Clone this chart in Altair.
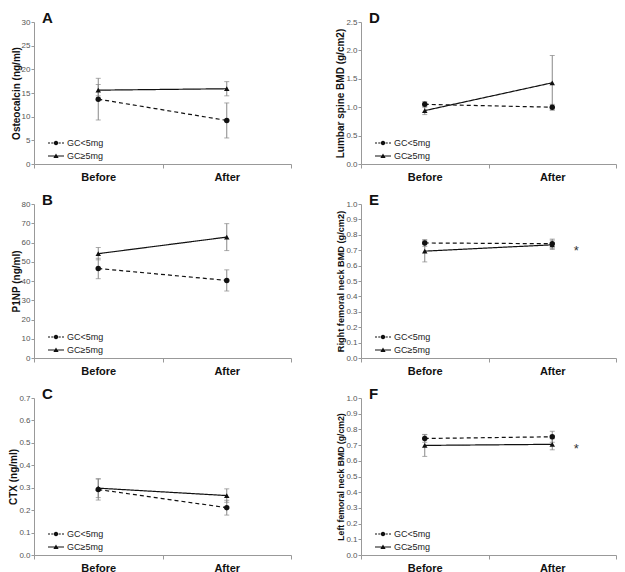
import altair as alt
import pandas as pd

FONT = "Liberation Sans"
categories = ["Before", "After"]
groups = ["GC<5mg", "GC≥5mg"]

# Panel A - Osteocalcin
a_low = [13.7, 9.2]
a_low_err = [4.4, 3.7]
a_high = [15.6, 15.9]
a_high_err = [1.2, 1.5]
a_ticks = [0, 5, 10, 15, 20, 25, 30]

# Panel B - P1NP
b_low = [46.5, 40.3]
b_low_err = [5.3, 5.5]
b_high = [54.2, 62.8]
b_high_err = [3.2, 7.0]
b_ticks = [0, 10, 20, 30, 40, 50, 60, 70, 80]

# Panel C - CTX
c_low = [0.292, 0.211]
c_low_err = [0.047, 0.033]
c_high = [0.298, 0.265]
c_high_err = [0.042, 0.030]
c_ticks = [0.0, 0.1, 0.2, 0.3, 0.4, 0.5, 0.6, 0.7]

# Panel D - Lumbar spine BMD
d_low = [1.05, 1.00]
d_low_err = [0.05, 0.05]
d_high = [0.94, 1.43]
d_high_err = [0.07, 0.48]
d_ticks = [0.0, 0.5, 1.0, 1.5, 2.0, 2.5]

# Panel E - Right femoral neck BMD
e_low = [0.747, 0.742]
e_low_err = [0.022, 0.030]
e_high = [0.694, 0.735]
e_high_err = [0.070, 0.030]
e_ticks = [0.0, 0.1, 0.2, 0.3, 0.4, 0.5, 0.6, 0.7, 0.8, 0.9, 1.0]
e_star = 0.72

# Panel F - Left femoral neck BMD
f_low = [0.742, 0.753]
f_low_err = [0.024, 0.035]
f_high = [0.698, 0.705]
f_high_err = [0.070, 0.035]
f_ticks = [0.0, 0.1, 0.2, 0.3, 0.4, 0.5, 0.6, 0.7, 0.8, 0.9, 1.0]
f_star = 0.70


def seg(x0, x1, h=0.11):
    return f"M{x0},{-h}L{x1},{-h}L{x1},{h}L{x0},{h}Z"


def disk(r):
    return f"M{r},0A{r},{r} 0 1,1 {-r},0A{r},{r} 0 1,1 {r},0Z"


def tri(s):
    return f"M0,{-0.5 * s}L{0.52 * s},{0.42 * s}L{-0.52 * s},{0.42 * s}Z"


# legend symbols (filled shapes): dashed line + circle, solid line + triangle
LEG_LOW = (seg(-1.6, -1.2) + seg(-0.95, -0.55) + seg(0.55, 0.95) + seg(1.2, 1.6)
           + disk(0.45))
LEG_HIGH = seg(-1.6, 1.6) + tri(1.0)


def panel(letter, ytitle, tsize, low, low_err, high, high_err, ticks, fmt,
          width, height, star=None):
    rows = []
    for g, m, e in ((groups[0], low, low_err), (groups[1], high, high_err)):
        for c, mv, ev in zip(categories, m, e):
            rows.append({"category": c, "group": g, "legend": g, "mean": mv,
                         "lo": mv - ev, "hi": mv + ev})
    df = pd.DataFrame(rows)
    ymax = ticks[-1]
    yscale = alt.Scale(domain=[0, ymax], nice=False, zero=True)
    yaxis = alt.Axis(values=ticks, format=fmt, grid=False, tickSize=3,
                     tickColor="#999", domainColor="#999", labelFontSize=8,
                     labelColor="#555", labelFont=FONT, labelPadding=1,
                     title=ytitle, titleFont=FONT, titleFontSize=tsize,
                     titleFontWeight="bold", titleColor="#111", titlePadding=0)
    X = alt.X("category:N", sort=categories,
              scale=alt.Scale(type="band", paddingInner=0, paddingOuter=0),
              axis=alt.Axis(title=None, labelAngle=0, labelFont=FONT,
                            labelFontWeight="bold", labelFontSize=11,
                            labelColor="#111", tickBand="extent", tickSize=4,
                            tickColor="#999", domainColor="#999",
                            labelPadding=3))
    Y = alt.Y("mean:Q", scale=yscale, axis=yaxis)
    base = alt.Chart(df)
    err = base.mark_errorbar(ticks={"size": 5, "color": "#888"}, color="#888",
                             thickness=1).encode(
        x=X, y=alt.Y("lo:Q", scale=yscale, axis=yaxis), y2="hi:Q")
    line = base.mark_line(color="#111", strokeWidth=1.2).encode(
        x=X, y=Y,
        strokeDash=alt.StrokeDash("group:N", scale=alt.Scale(domain=groups, range=[[4, 3], [1, 0]]), legend=None),
    )
    pts = base.mark_point(filled=True, color="#111", opacity=1, size=30).encode(
        x=X, y=Y,
        shape=alt.Shape("group:N", scale=alt.Scale(domain=groups, range=["circle", "triangle-up"]), legend=None),
    )
    leg = base.mark_point(filled=True, color="#111", opacity=0).encode(
        x=X, y=Y,
        shape=alt.Shape("legend:N", scale=alt.Scale(domain=groups, range=[LEG_LOW, LEG_HIGH]),
                        legend=alt.Legend(title=None, orient="none", legendX=17,
                                          legendY=height - 26,
                                          symbolSize=100, symbolStrokeWidth=0,
                                          symbolFillColor="#111",
                                          symbolOpacity=1, labelFontSize=9, labelFont=FONT,
                                          labelColor="#222", labelOffset=6, rowPadding=3,
                                          padding=0)),
    )
    layers = [err, line, pts, leg]
    if star is not None:
        sdf = pd.DataFrame({"category": ["After"], "y": [star], "t": ["*"]})
        st = alt.Chart(sdf).mark_text(dx=24, dy=4, fontSize=13, color="#333", font=FONT).encode(
            x=X, y=alt.Y("y:Q", scale=yscale, axis=yaxis), text="t:N")
        layers.append(st)
    return alt.layer(*layers).resolve_scale(shape="independent").properties(
        width=width, height=height,
        title=alt.TitleParams(letter, anchor="start", frame="group", fontSize=15,
                              fontWeight="bold", font=FONT, color="#111", dx=8, offset=-8),
    )


pA = panel("A", "Osteocalcin (ng/ml)", 10, a_low, a_low_err, a_high, a_high_err, a_ticks, "d", 257, 142)
pD = panel("D", "Lumbar spine BMD (g/cm2)", 10, d_low, d_low_err, d_high, d_high_err, d_ticks, ".1f", 255, 142)
pB = panel("B", "P1NP (ng/ml)", 10, b_low, b_low_err, b_high, b_high_err, b_ticks, "d", 257, 154)
pE = panel("E", "Right femoral neck BMD (g/cm2)", 9.2, e_low, e_low_err, e_high, e_high_err, e_ticks, ".1f", 255, 154, e_star)
pC = panel("C", "CTX (ng/ml)", 10, c_low, c_low_err, c_high, c_high_err, c_ticks, ".1f", 257, 157)
pF = panel("F", "Left femoral neck BMD (g/cm2)", 8.7, f_low, f_low_err, f_high, f_high_err, f_ticks, ".1f", 255, 157, f_star)

chart = alt.concat(pA, pD, pB, pE, pC, pF, columns=2,
                   spacing={"row": 11, "column": 43}).resolve_scale(
    shape="independent", strokeDash="independent").resolve_legend(
    shape="independent", strokeDash="independent").properties(
    padding={"left": 0, "top": 3, "right": 0, "bottom": 0},
    background="white",
).configure_view(stroke=None)

chart.save("out.html", embed_options={"renderer": "svg", "actions": False})
